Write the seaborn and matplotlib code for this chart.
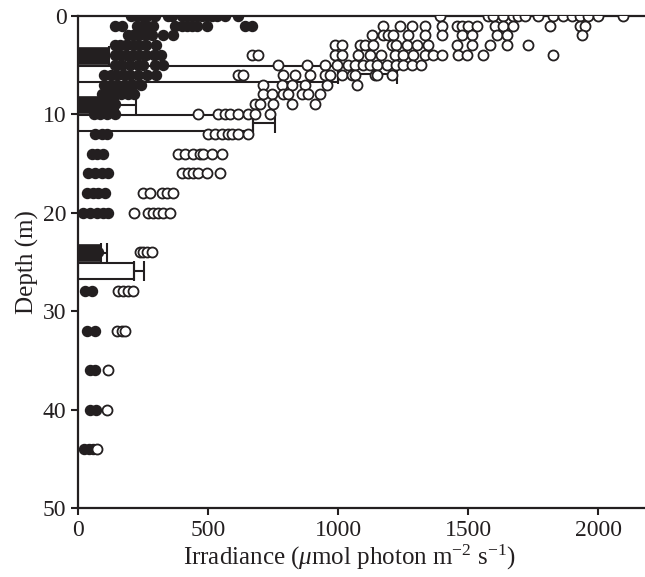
import numpy as np
import pandas as pd
import seaborn as sns
from matplotlib import pyplot as plt

# depth levels (m) of the individual measurements
depth_levels = [0, 1, 2, 3, 4, 5, 6, 7, 8, 9, 10, 12, 14, 16, 18, 20, 24, 28, 32, 36, 40, 44]

# filled circles: irradiance at each depth level
filled_irr = [
    [203, 224, 250, 263, 295, 346, 359, 397, 417, 436, 455, 474, 494, 513, 532, 564, 613],
    [141, 167, 224, 244, 263, 289, 372, 397, 417, 436, 455, 494, 641, 667],
    [192, 212, 231, 257, 282, 327, 365],
    [140, 160, 185, 210, 235, 260, 300],
    [140, 160, 185, 210, 235, 260, 290, 320],
    [141, 167, 199, 231, 250, 295, 327],
    [100, 125, 150, 175, 200, 230, 265, 300],
    [100, 125, 150, 180, 210, 240],
    [90, 115, 140, 165, 190, 215],
    [20, 45, 70, 95, 120, 140],
    [60, 85, 110, 140],
    [64, 90, 109],
    [51, 71, 96],
    [38, 64, 90, 115],
    [32, 58, 77, 103],
    [19, 45, 71, 96, 115],
    [25, 50, 75],
    [26, 51],
    [32, 64],
    [45, 64],
    [45, 70],
    [20, 40, 55],
]

# open circles: irradiance at each depth level
open_irr = [
    [1391, 1577, 1596, 1635, 1673, 1693, 1718, 1770, 1827, 1866, 1898, 1930, 1962, 2001, 2097],
    [1173, 1237, 1282, 1333, 1398, 1455, 1475, 1500, 1532, 1603, 1635, 1673, 1814, 1930, 1949],
    [1128, 1173, 1192, 1212, 1269, 1333, 1398, 1475, 1513, 1610, 1648, 1936],
    [987, 1013, 1083, 1103, 1135, 1205, 1224, 1263, 1301, 1346, 1455, 1513, 1584, 1648, 1731],
    [667, 690, 987, 1013, 1077, 1122, 1166, 1218, 1250, 1289, 1333, 1366, 1398, 1462, 1494, 1555, 1827],
    [769, 880, 949, 994, 1039, 1064, 1096, 1122, 1149, 1188, 1224, 1250, 1282, 1320],
    [615, 635, 788, 834, 891, 949, 968, 1014, 1051, 1064, 1141, 1148, 1207],
    [710, 783, 822, 872, 957, 1072],
    [710, 745, 788, 807, 861, 884, 930],
    [680, 699, 749, 822, 910],
    [462, 538, 564, 584, 615, 654, 680, 737],
    [500, 526, 551, 577, 590, 615, 654],
    [385, 410, 442, 468, 481, 513, 551],
    [397, 423, 442, 462, 494, 545],
    [250, 276, 321, 340, 365],
    [215, 269, 288, 308, 327, 353],
    [237, 250, 263, 282],
    [154, 173, 192, 212],
    [147, 167, 180],
    [115],
    [109],
    [71],
]

# mean bars with error (depth groups)
bar_depths = [5, 10, 25]
bar_filled_mean = [120, 153, 87]
bar_filled_err = [70, 69, 24]
bar_open_mean = [1000, 671, 213]
bar_open_err = [225, 85, 41]

ink = '#231f20'

rows = []
for d, f_vals, o_vals in zip(depth_levels, filled_irr, open_irr):
    rows += [(v, d, 'filled') for v in f_vals]
    rows += [(v, d, 'open') for v in o_vals]
df = pd.DataFrame(rows, columns=['irradiance', 'depth', 'kind'])

sns.set_style('ticks')
plt.rcParams['font.family'] = ['Liberation Serif', 'DejaVu Serif']
plt.rcParams['mathtext.fontset'] = 'custom'
plt.rcParams['mathtext.rm'] = 'Liberation Serif'
plt.rcParams['mathtext.it'] = 'Liberation Serif:italic'

fig = plt.figure(figsize=(6.45, 5.77), dpi=100)
ax = fig.add_axes([0.1214, 0.1196, 0.8786, 0.8532])

off = 0.9
bh = 1.6
yf = np.array(bar_depths) - off
yo = np.array(bar_depths) + off
ax.barh(yf, bar_filled_mean, height=bh, color=ink, edgecolor=ink, linewidth=1.2, zorder=2)
ax.barh(yo, bar_open_mean, height=bh, color='white', edgecolor=ink, linewidth=1.5, zorder=2)
ax.errorbar(np.array(bar_filled_mean), yf, xerr=[np.zeros(3), bar_filled_err], fmt='none',
            ecolor=ink, elinewidth=1.5, capsize=7, capthick=1.5, zorder=2)
ax.errorbar(np.array(bar_open_mean), yo, xerr=[np.zeros(3), bar_open_err], fmt='none',
            ecolor=ink, elinewidth=1.5, capsize=7, capthick=1.5, zorder=2)

sns.scatterplot(data=df[df.kind == 'filled'], x='irradiance', y='depth', ax=ax,
                s=52, color=ink, edgecolor=ink, linewidth=1.0, zorder=3)
sns.scatterplot(data=df[df.kind == 'open'], x='irradiance', y='depth', ax=ax,
                s=52, color='white', edgecolor=ink, linewidth=1.3, zorder=3)

ax.set_xlim(0, 2180)
ax.set_ylim(50, 0)
ax.set_xticks([0, 500, 1000, 1500, 2000])
ax.set_yticks([0, 10, 20, 30, 40, 50])
for side in ['left', 'bottom', 'top']:
    ax.spines[side].set_linewidth(1.6)
    ax.spines[side].set_color(ink)
ax.spines['right'].set_visible(False)
ax.tick_params(axis='both', direction='out', length=5, width=1.5, color=ink,
               labelsize=17, labelcolor=ink, top=False, right=False)
ax.set_xlabel(r'Irradiance ($\mu$mol photon m$^{-2}$ s$^{-1}$)', fontsize=18, color=ink)
ax.set_ylabel('Depth (m)', fontsize=18, color=ink, labelpad=3)
ax.xaxis.set_label_coords(0.478, -0.07, transform=ax.transAxes)
ax.xaxis.label.set_va('top')

fig.savefig('out.png', dpi=100)
